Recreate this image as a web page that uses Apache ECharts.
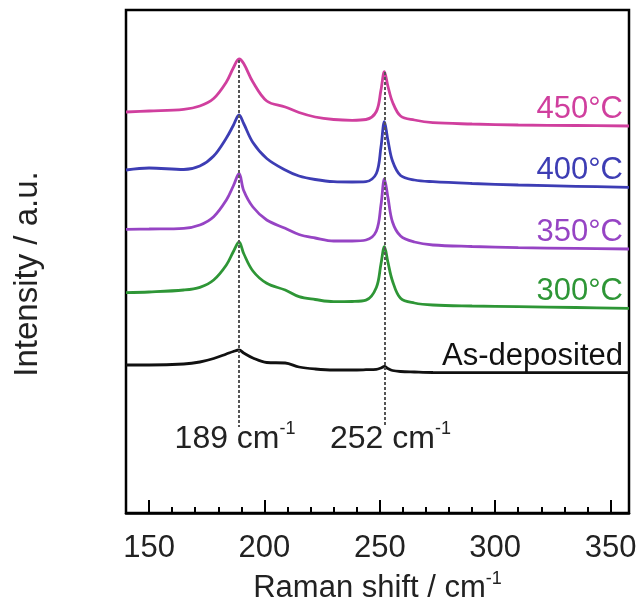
<!DOCTYPE html>
<html>
<head>
<meta charset="utf-8">
<script src="https://cdn.jsdelivr.net/npm/echarts@6/dist/echarts.min.js"></script>
<style>
  html, body { margin: 0; padding: 0; background: #fff; }
  #chart { width: 639px; height: 599px; }
</style>
</head>
<body>
<div id="chart"></div>
<script>
// Raman shift (cm-1) sample points shared by all spectra
var ramanShift = [140, 150, 165, 172, 178, 183.5, 186.5, 189, 191, 195, 201, 209, 215, 222, 230, 238, 244, 248.5, 250.5, 252, 253.5, 255.5, 259, 265, 273, 290, 310, 335, 358];

// intensities (a.u., already offset for stacking)
var asDeposited = [148, 148, 149, 151, 154.5, 159, 161.5, 163, 160, 155, 150.5, 150, 146, 144, 143, 143, 143.3, 143.7, 145, 146.5, 144.5, 142.5, 141.5, 141, 140.5, 140.3, 140.3, 140.3, 140.3];
var t300 = [220.3, 221, 223, 225.7, 233, 248, 261.3, 271, 259.5, 242, 229.7, 223, 216.3, 213.5, 211.3, 211.5, 212.8, 225.5, 249, 266.3, 251, 232, 214.7, 210, 208, 207, 206.3, 205.5, 204.7];
var t350 = [283.7, 284, 284.7, 288, 296.3, 313, 327, 339.5, 322.5, 306, 293, 284.7, 278.5, 275, 272, 272, 273, 282, 308, 334, 316, 291, 277, 271, 268, 266.5, 265.3, 264.7, 264];
var t400 = [343, 345, 343.5, 347, 357, 375, 387.5, 398, 389.5, 370.5, 354.5, 343, 337, 333.5, 331.3, 331, 331.3, 339.5, 366, 391.3, 373, 352, 337.5, 333, 331.3, 329.5, 328, 326.7, 325.7];
var t450 = [401, 402, 403.7, 407, 414.5, 431, 445, 454, 449.5, 431, 412, 406, 400.5, 396, 393.5, 392.7, 393.5, 401.5, 423, 441.3, 427, 411, 397, 393, 390.3, 389, 388, 387.5, 387];

var spectraNames = ['As-deposited', '300°C', '350°C', '400°C', '450°C'];
var spectraColors = ['#111111', '#2e9636', '#9644c4', '#3d3db4', '#d03f9e'];
var spectra = [asDeposited, t300, t350, t400, t450];

var peakPositions = [189, 252];
var peakTops = [453, 441];
var peakBottom = 86;
var peakLabelY = 74;

var majorTicks = [150, 200, 250, 300, 350];
var minorTicks = [160, 170, 180, 190, 210, 220, 230, 240, 260, 270, 280, 290, 310, 320, 330, 340];

var FONT = '"Liberation Sans", Arial, sans-serif';

var chart = echarts.init(document.getElementById('chart'));

var series = spectra.map(function (vals, i) {
    return {
        name: spectraNames[i],
        type: 'line',
        smooth: 0.35,
        showSymbol: false,
        symbol: 'none',
        data: ramanShift.map(function (x, k) { return [x, vals[k]]; }),
        lineStyle: { color: spectraColors[i], width: 2.8 },
        itemStyle: { color: spectraColors[i] },
        endLabel: {
            show: true,
            formatter: spectraNames[i],
            color: spectraColors[i],
            fontSize: 31,
            fontFamily: FONT,
            align: 'right',
            verticalAlign: 'bottom',
            distance: 0,
            offset: [-6, -1]
        },
        animation: false
    };
});

// dotted guide lines and their labels
series.push({
    name: 'peaks',
    type: 'line',
    data: [],
    z: 5,
    markLine: {
        silent: true,
        symbol: ['none', 'none'],
        label: { show: false },
        lineStyle: { color: '#555', type: [3, 2], width: 2 },
        data: peakPositions.map(function (p, i) {
            return [{ coord: [p, peakTops[i]] }, { coord: [p, peakBottom] }];
        })
    },
    markPoint: {
        silent: true,
        symbolSize: 0,
        label: {
            show: true,
            position: 'inside',
            color: '#222',
            fontSize: 32,
            fontFamily: FONT,
            lineHeight: 38,
            rich: {
                n: { fontSize: 32, fontFamily: FONT, color: '#222', lineHeight: 38 },
                sup: { fontSize: 18, fontFamily: FONT, color: '#222', verticalAlign: 'top', lineHeight: 18 }
            }
        },
        data: peakPositions.map(function (p, i) {
            return {
                coord: [p, peakLabelY],
                label: {
                    formatter: '{n|' + p + ' cm}{sup|-1}',
                    offset: [i === 0 ? -4 : 6, 0]
                }
            };
        })
    },
    animation: false
});

var option = {
    backgroundColor: '#fff',
    animation: false,
    grid: {
        left: 126,
        right: 10,
        top: 10,
        bottom: 86,
        outerBoundsMode: 'none',
        containLabel: false,
        show: true,
        borderColor: '#000',
        borderWidth: 2.5
    },
    xAxis: [{
        type: 'value',
        min: 140,
        max: 358,
        name: '{n|Raman shift / cm}{sup|-1}',
        nameLocation: 'middle',
        nameGap: 57,
        nameTextStyle: {
            fontSize: 31,
            fontFamily: FONT,
            color: '#222',
            rich: {
                n: { fontSize: 31, fontFamily: FONT, color: '#222', lineHeight: 36 },
                sup: { fontSize: 18, fontFamily: FONT, color: '#222', verticalAlign: 'top', lineHeight: 18 }
            }
        },
        axisLine: { show: true, onZero: false, lineStyle: { color: '#000', width: 2.5 } },
        axisTick: {
            show: true,
            inside: true,
            length: 13,
            customValues: majorTicks,
            lineStyle: { color: '#000', width: 2 }
        },
        axisLabel: {
            show: true,
            customValues: majorTicks,
            margin: 20,
            fontSize: 31,
            fontFamily: FONT,
            color: '#222'
        },
        splitLine: { show: false }
    }, {
        type: 'value',
        min: 140,
        max: 358,
        position: 'bottom',
        axisLine: { show: false },
        axisTick: {
            show: true,
            inside: true,
            length: 6,
            customValues: minorTicks,
            lineStyle: { color: '#000', width: 2 }
        },
        axisLabel: { show: false },
        splitLine: { show: false }
    }],
    yAxis: {
        type: 'value',
        min: 0,
        max: 503,
        name: 'Intensity / a.u.',
        nameLocation: 'middle',
        nameGap: 82,
        nameTextStyle: {
            fontSize: 33,
            fontFamily: FONT,
            color: '#222',
            padding: [0, 25, 0, 0]
        },
        axisLine: { show: false },
        axisTick: { show: false },
        axisLabel: { show: false },
        splitLine: { show: false }
    },
    series: series
};

chart.setOption(option);
</script>
</body>
</html>
